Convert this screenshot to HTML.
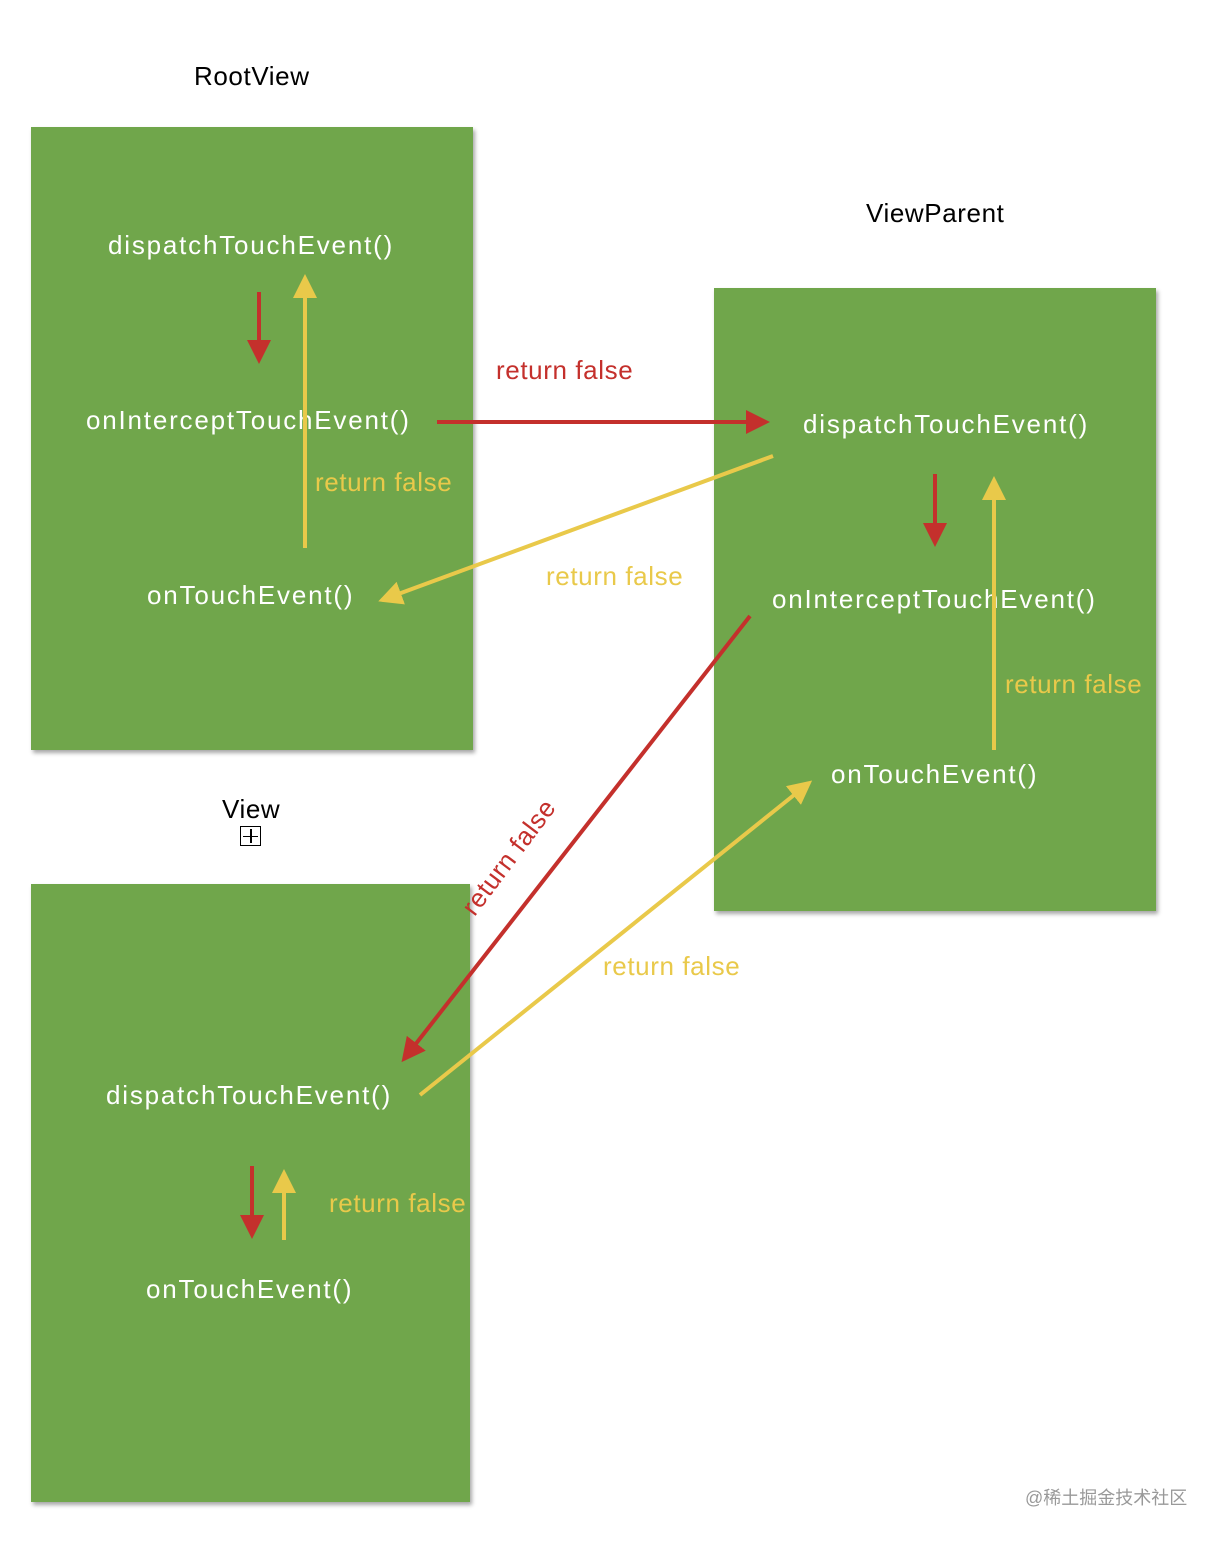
<!DOCTYPE html>
<html><head><meta charset="utf-8"><style>
html,body{margin:0;padding:0;background:#fff;}
body{width:1222px;height:1546px;position:relative;overflow:hidden;font-family:"Liberation Sans",Arial,sans-serif;}
.box{position:absolute;background:#70a64b;box-shadow:2px 3px 4px rgba(0,0,0,0.35);}
.t{position:absolute;white-space:nowrap;font-size:26px;line-height:30px;letter-spacing:0.6px;}
.w{color:#fff;letter-spacing:1.8px;}
.k{color:#000;}
.y{color:#e9c94a;}
.r{color:#c4302c;}
svg{position:absolute;left:0;top:0;}
</style></head><body>
<div class="box" style="left:31px;top:127px;width:442px;height:623px"></div>
<div class="box" style="left:714px;top:288px;width:442px;height:623px"></div>
<div class="box" style="left:31px;top:884px;width:439px;height:618px"></div>

<div class="t k" style="left:194px;top:61px">RootView</div>
<div class="t k" style="left:866px;top:198px">ViewParent</div>
<div class="t k" style="left:222px;top:794px">View</div>
<div style="position:absolute;left:240px;top:826px;width:21px;height:20px;border:1.5px solid #000;box-sizing:border-box"></div>
<div style="position:absolute;left:250px;top:829px;width:1.5px;height:14px;background:#000"></div>
<div style="position:absolute;left:243px;top:835.5px;width:15px;height:1.5px;background:#000"></div>

<div class="t w" style="left:108px;top:230px">dispatchTouchEvent()</div>
<div class="t w" style="left:86px;top:405px">onInterceptTouchEvent()</div>
<div class="t w" style="left:147px;top:580px">onTouchEvent()</div>
<div class="t w" style="left:803px;top:409px">dispatchTouchEvent()</div>
<div class="t w" style="left:772px;top:584px">onInterceptTouchEvent()</div>
<div class="t w" style="left:831px;top:759px">onTouchEvent()</div>
<div class="t w" style="left:106px;top:1080px">dispatchTouchEvent()</div>
<div class="t w" style="left:146px;top:1274px">onTouchEvent()</div>

<div class="t r" style="left:496px;top:355px">return false</div>
<div class="t y" style="left:315px;top:467px">return false</div>
<div class="t y" style="left:546px;top:561px">return false</div>
<div class="t y" style="left:1005px;top:669px">return false</div>
<div class="t y" style="left:603px;top:951px">return false</div>
<div class="t y" style="left:329px;top:1188px">return false</div>
<div class="t r" style="left:440px;top:842px;transform:rotate(-53deg);transform-origin:center">return false</div>

<svg width="1222" height="1546">
<defs>
<marker id="mr" markerWidth="6" markerHeight="6" refX="5" refY="3" orient="auto" markerUnits="strokeWidth"><path d="M0,0 L6,3 L0,6 z" fill="#c4302c"/></marker>
<marker id="my" markerWidth="6" markerHeight="6" refX="5" refY="3" orient="auto" markerUnits="strokeWidth"><path d="M0,0 L6,3 L0,6 z" fill="#e9c94a"/></marker>
</defs>
<g stroke-width="4" fill="none">
<line x1="259" y1="292" x2="259" y2="360" stroke="#c4302c" marker-end="url(#mr)"/>
<line x1="305" y1="548" x2="305" y2="278" stroke="#e9c94a" marker-end="url(#my)"/>
<line x1="437" y1="422" x2="766" y2="422" stroke="#c4302c" marker-end="url(#mr)"/>
<line x1="773" y1="456" x2="382" y2="600" stroke="#e9c94a" marker-end="url(#my)"/>
<line x1="935" y1="474" x2="935" y2="543" stroke="#c4302c" marker-end="url(#mr)"/>
<line x1="994" y1="750" x2="994" y2="480" stroke="#e9c94a" marker-end="url(#my)"/>
<line x1="750" y1="616" x2="404" y2="1059" stroke="#c4302c" marker-end="url(#mr)"/>
<line x1="420" y1="1095" x2="809" y2="783" stroke="#e9c94a" marker-end="url(#my)"/>
<line x1="252" y1="1166" x2="252" y2="1235" stroke="#c4302c" marker-end="url(#mr)"/>
<line x1="284" y1="1240" x2="284" y2="1173" stroke="#e9c94a" marker-end="url(#my)"/>
</g>
</svg>
<div class="t" style="left:1025px;top:1487px;font-size:18px;line-height:22px;letter-spacing:0;color:#999;font-family:'Liberation Sans','Noto Sans CJK SC',sans-serif">@稀土掘金技术社区</div>
</body></html>
